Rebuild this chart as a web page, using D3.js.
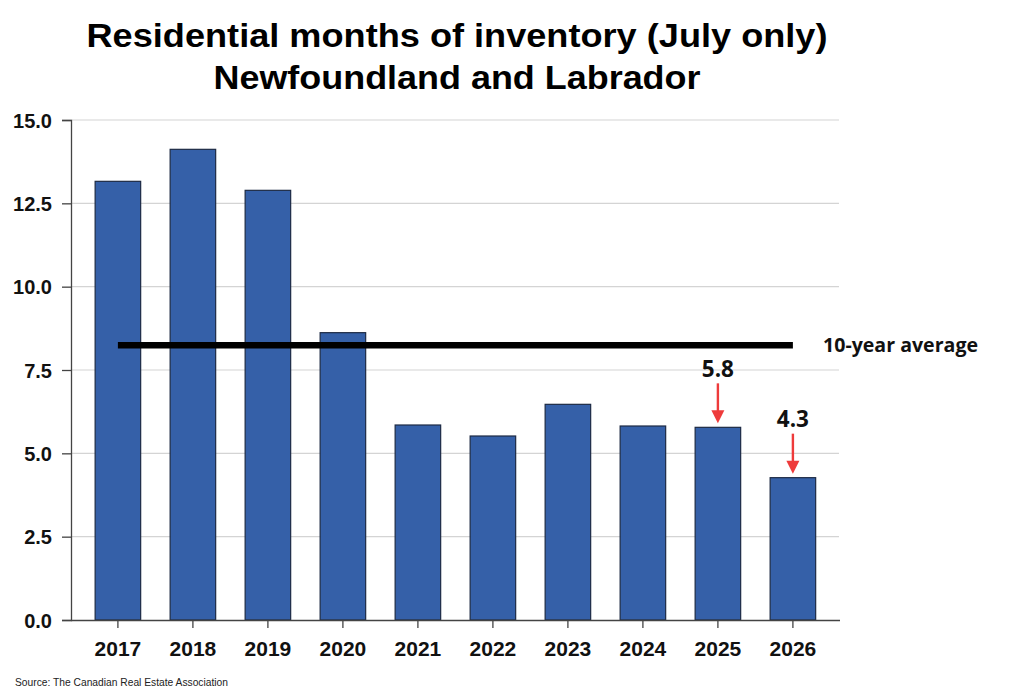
<!DOCTYPE html>
<html>
<head>
<meta charset="utf-8">
<script src="https://cdn.jsdelivr.net/npm/d3@7"></script>
<style>
  html, body { margin: 0; padding: 0; background: #fff; }
  svg { display: block; }
</style>
</head>
<body>
<svg id="chart" width="1015" height="700"></svg>
<script>
const years = ["2017","2018","2019","2020","2021","2022","2023","2024","2025","2026"];
const inventory = [13.16, 14.12, 12.89, 8.62, 5.85, 5.52, 6.47, 5.82, 5.78, 4.27];
const yTicks = [0, 2.5, 5, 7.5, 10, 12.5, 15];
const average = 8.24;
const callouts = [{year: "2025", label: "5.8"}, {year: "2026", label: "4.3"}];
const titleLines = ["Residential months of inventory (July only)", "Newfoundland and Labrador"];
const averageLabel = "10-year average";
const sourceText = "Source: The Canadian Real Estate Association";

const svg = d3.select("#chart");
const plotLeft = 71, plotRight = 840, plotTop = 120, plotBottom = 620;

const x = d3.scaleBand().domain(years).range([80.4, 830.4])
  .paddingInner(0.393).paddingOuter(0.1965);
const y = d3.scaleLinear().domain([0, 15]).range([plotBottom, plotTop]);

// Title
const title = svg.append("g").attr("font-family", "Liberation Sans, Arial, sans-serif")
  .attr("font-weight", "bold").attr("fill", "#000").attr("text-anchor", "middle");
title.append("text").attr("x", 457).attr("y", 46.7).attr("font-size", 33)
  .attr("textLength", 741).attr("lengthAdjust", "spacingAndGlyphs").text(titleLines[0]);
title.append("text").attr("x", 457).attr("y", 89.3).attr("font-size", 33)
  .attr("textLength", 487).attr("lengthAdjust", "spacingAndGlyphs").text(titleLines[1]);

// Gridlines
svg.append("g").selectAll("line").data(yTicks.filter(d => d > 0)).join("line")
  .attr("x1", plotLeft).attr("x2", plotRight - 1)
  .attr("y1", d => y(d)).attr("y2", d => y(d))
  .attr("stroke", "#d4d4d4").attr("stroke-width", 1.2);

// Bars
svg.append("g").selectAll("rect").data(years).join("rect")
  .attr("x", d => x(d)).attr("width", x.bandwidth())
  .attr("y", (d, i) => y(inventory[i]))
  .attr("height", (d, i) => y(0) - y(inventory[i]))
  .attr("fill", "#3560a8").attr("stroke", "#1d2a44").attr("stroke-width", 1.2);

// Y axis
const yAxis = svg.append("g").attr("transform", `translate(${plotLeft},0)`)
  .call(d3.axisLeft(y).tickValues(yTicks).tickFormat(d3.format(".1f")).tickSize(9).tickPadding(10));
yAxis.select(".domain").attr("stroke", "#444").attr("stroke-width", 1.3);
yAxis.selectAll(".tick line").attr("stroke", "#444").attr("stroke-width", 1.3);
yAxis.selectAll(".tick text").attr("font-family", "Liberation Sans, Arial, sans-serif")
  .attr("font-weight", "bold").attr("font-size", 20).attr("fill", "#111").attr("dy", "0.36em");

// X axis
const xAxis = svg.append("g").attr("transform", `translate(0,${plotBottom})`)
  .call(d3.axisBottom(x).tickSize(8).tickSizeOuter(0).tickPadding(13));
xAxis.select(".domain").attr("stroke", "#444").attr("stroke-width", 1.3)
  .attr("d", `M${plotLeft},0.5H${plotRight}`);
xAxis.selectAll(".tick line").attr("stroke", "#444").attr("stroke-width", 1.3);
xAxis.selectAll(".tick text").attr("font-family", "Liberation Sans, Arial, sans-serif")
  .attr("font-weight", "bold").attr("font-size", 21).attr("fill", "#111");

// Average line
const cx = d => x(d) + x.bandwidth() / 2;
svg.append("line")
  .attr("x1", cx(years[0])).attr("x2", cx(years[years.length - 1]))
  .attr("y1", y(average)).attr("y2", y(average))
  .attr("stroke", "#000").attr("stroke-width", 6.5);
svg.append("text").attr("x", 823).attr("y", 352.3)
  .attr("font-family", "Open Sans, sans-serif").attr("font-weight", 700)
  .attr("font-size", 19.5).attr("fill", "#111")
  .attr("textLength", 155).attr("lengthAdjust", "spacingAndGlyphs")
  .text(averageLabel);

// Callouts
const valueOf = yr => inventory[years.indexOf(yr)];
const cg = svg.append("g");
callouts.forEach(c => {
  const top = y(valueOf(c.year));
  const xc = cx(c.year);
  cg.append("text").attr("x", xc).attr("y", top - 50.5)
    .attr("text-anchor", "middle")
    .attr("font-family", "Open Sans, sans-serif").attr("font-weight", 700)
    .attr("font-size", 22.5).attr("fill", "#111").text(c.label);
  cg.append("line").attr("x1", xc).attr("x2", xc)
    .attr("y1", top - 44).attr("y2", top - 12)
    .attr("stroke", "#ee3b3b").attr("stroke-width", 2.4);
  cg.append("path")
    .attr("d", `M${xc - 6.5},${top - 17}L${xc + 6.5},${top - 17}L${xc},${top - 4}Z`)
    .attr("fill", "#ee3b3b");
});

// Source
svg.append("text").attr("x", 15).attr("y", 686)
  .attr("font-family", "Liberation Sans, Arial, sans-serif")
  .attr("font-size", 10.5).attr("fill", "#222")
  .attr("textLength", 213).attr("lengthAdjust", "spacingAndGlyphs")
  .text(sourceText);
</script>
</body>
</html>
